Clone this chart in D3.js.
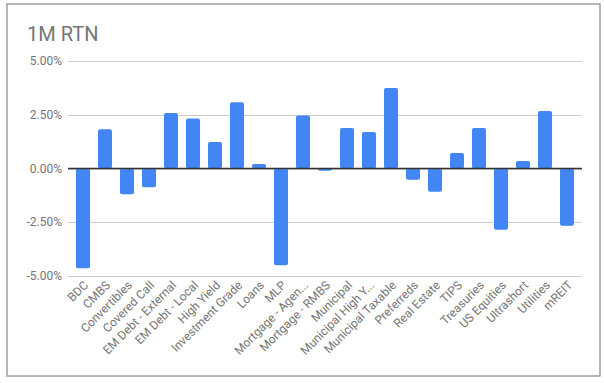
<!DOCTYPE html>
<html><head><meta charset="utf-8">
<script src="https://cdn.jsdelivr.net/npm/d3@7"></script>
<style>body{margin:0;background:#fff;}svg{display:block;font-family:Roboto,sans-serif;}</style>
</head><body>
<svg id="c" width="604" height="383"></svg>
<script>
const categories = ["BDC","CMBS","Convertibles","Covered Call","EM Debt - External","EM Debt - Local","High Yield","Investment Grade","Loans","MLP","Mortgage - Agen...","Mortgage - RMBS","Municipal","Municipal High Y...","Municipal Taxable","Preferreds","Real Estate","TIPS","Treasuries","US Equities","Ultrashort","Utilities","mREIT"];
const values = [-4.64,1.82,-1.20,-0.87,2.58,2.33,1.23,3.08,0.21,-4.50,2.47,-0.10,1.88,1.70,3.74,-0.52,-1.08,0.72,1.88,-2.85,0.35,2.67,-2.66];
const yTicks = [-5,-2.5,0,2.5,5];
const title = "1M RTN";

const svg = d3.select("#c");
svg.append("rect").attr("x",7).attr("y",4).attr("width",593).attr("height",372)
  .attr("fill","#fff").attr("stroke","#9e9e9e").attr("stroke-width",1.5);

svg.append("text").attr("x",27).attr("y",41).attr("font-size",20).attr("fill","#757575").text(title);

const x = d3.scaleBand().domain(categories).range([72,578]).paddingInner(0.3636).paddingOuter(0.1818);
const y = d3.scaleLinear().domain([-5,5]).range([276,61]);

const grid = svg.append("g");
grid.selectAll("line").data(yTicks).join("line")
  .attr("x1",68).attr("x2",582).attr("y1",d=>Math.round(y(d))+0.5).attr("y2",d=>Math.round(y(d))+0.5)
  .attr("stroke","#cccccc").attr("stroke-width",1);

svg.append("g").selectAll("text").data(yTicks).join("text")
  .attr("x",62).attr("y",d=>y(d)).attr("dy","0.35em").attr("text-anchor","end")
  .attr("font-size",12).attr("fill","#757575").text(d=>d.toFixed(2)+"%");

svg.append("g").selectAll("rect").data(values).join("rect")
  .attr("x",(d,i)=>x(categories[i])).attr("width",x.bandwidth())
  .attr("y",d=>y(Math.max(0,d))).attr("height",d=>Math.abs(y(d)-y(0)))
  .attr("rx",2).attr("fill","#4285f4");

svg.append("line").attr("x1",68).attr("x2",582).attr("y1",y(0)).attr("y2",y(0))
  .attr("stroke","#333").attr("stroke-width",1.3);

svg.append("g").selectAll("text").data(categories).join("text")
  .attr("transform",d=>`translate(${x(d)+x.bandwidth()/2+3},${283}) rotate(-45)`)
  .attr("dy","0.35em").attr("text-anchor","end")
  .attr("font-size",12).attr("fill","#757575").text(d=>d);
</script>
</body></html>
